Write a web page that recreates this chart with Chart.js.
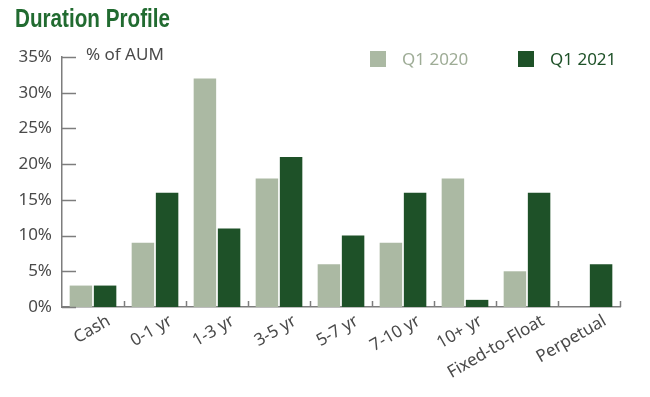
<!DOCTYPE html>
<html>
<head>
<meta charset="utf-8">
<script src="https://cdn.jsdelivr.net/npm/chart.js@4/dist/chart.umd.min.js"></script>
<style>
html,body{margin:0;padding:0;background:#fff;}
#wrap{width:650px;height:397px;position:relative;}
</style>
</head>
<body>
<div id="wrap"><canvas id="c" width="650" height="397"></canvas></div>
<script>
const categories = ['Cash','0-1 yr','1-3 yr','3-5 yr','5-7 yr','7-10 yr','10+ yr','Fixed-to-Float','Perpetual'];
const q1_2020 = [3, 9, 32, 18, 6, 9, 18, 5, 0];
const q1_2021 = [3, 16, 11, 21, 10, 16, 1, 16, 6];
const seriesNames = ['Q1 2020','Q1 2021'];
const yTicks = [0, 5, 10, 15, 20, 25, 30, 35];
const titleText = 'Duration Profile';
const unitText = '% of AUM';

const GRAY = '#abb9a3';
const DARK = '#1e5128';
const AXIS = '#7d7d7d';
const TEXT = '#4a4a4a';
const FONT = '"Noto Sans", "Open Sans", sans-serif';

const decor = {
  id: 'decor',
  afterDraw(chart) {
    const ctx = chart.ctx;
    const y = chart.scales.y;
    const area = chart.chartArea;
    ctx.save();
    // inward y ticks
    ctx.strokeStyle = AXIS;
    ctx.lineWidth = 1.5;
    yTicks.forEach(v => {
      const py = Math.round(y.getPixelForValue(v)) + 0.5;
      ctx.beginPath();
      ctx.moveTo(area.left, py);
      ctx.lineTo(area.left + 14, py);
      ctx.stroke();
    });
    // x category boundary ticks
    const n = categories.length;
    const w = (area.right - area.left) / n;
    for (let i = 1; i <= n; i++) {
      const px = Math.round(area.left + w * i) + 0.5;
      ctx.beginPath();
      ctx.moveTo(px, area.bottom);
      ctx.lineTo(px, area.bottom - 6);
      ctx.stroke();
    }
    // title (condensed look via horizontal scaling)
    ctx.fillStyle = '#216b30';
    ctx.font = 'bold 26px "Liberation Sans", Arial, sans-serif';
    ctx.textBaseline = 'alphabetic';
    ctx.textAlign = 'left';
    const tw = ctx.measureText(titleText).width;
    ctx.save();
    ctx.translate(15, 27);
    ctx.scale(155 / tw, 1);
    ctx.fillText(titleText, 0, 0);
    ctx.restore();
    // unit label
    ctx.fillStyle = TEXT;
    ctx.font = '17px ' + FONT;
    ctx.fillText(unitText, 86, 60);
    // legend
    const cols = [GRAY, DARK];
    const textCols = ['#9eac96', DARK];
    const lx = [370, 518];
    ctx.font = '17px ' + FONT;
    seriesNames.forEach((s, i) => {
      ctx.fillStyle = cols[i];
      ctx.fillRect(lx[i], 51, 16, 16);
      ctx.fillStyle = textCols[i];
      ctx.fillText(s, lx[i] + 32, 65);
    });
    ctx.restore();
  }
};

new Chart(document.getElementById('c'), {
  type: 'bar',
  data: {
    labels: categories,
    datasets: [
      { label: seriesNames[0], data: q1_2020, backgroundColor: GRAY, barPercentage: 0.93, categoryPercentage: 0.78 },
      { label: seriesNames[1], data: q1_2021, backgroundColor: DARK, barPercentage: 0.93, categoryPercentage: 0.78 }
    ]
  },
  options: {
    responsive: false,
    animation: false,
    layout: { padding: { left: 0, right: 30, top: 57, bottom: 0 } },
    plugins: { legend: { display: false }, title: { display: false }, tooltip: { enabled: false } },
    scales: {
      x: {
        grid: { display: false, drawTicks: false },
        border: { display: true, color: AXIS, width: 1.5 },
        ticks: {
          color: TEXT,
          font: { family: FONT, size: 17 },
          minRotation: 30, maxRotation: 30,
          labelOffset: 16,
          padding: 4
        },
        afterFit(s) { s.height = 90; }
      },
      y: {
        min: 0, max: 35,
        grid: { display: false, drawTicks: false },
        border: { display: true, color: AXIS, width: 1.5 },
        ticks: {
          stepSize: 5,
          color: TEXT,
          font: { family: FONT, size: 17 },
          padding: 10,
          callback: v => v + '%'
        },
        afterFit(s) { s.width = 62; }
      }
    }
  },
  plugins: [decor]
});
</script>
</body>
</html>
